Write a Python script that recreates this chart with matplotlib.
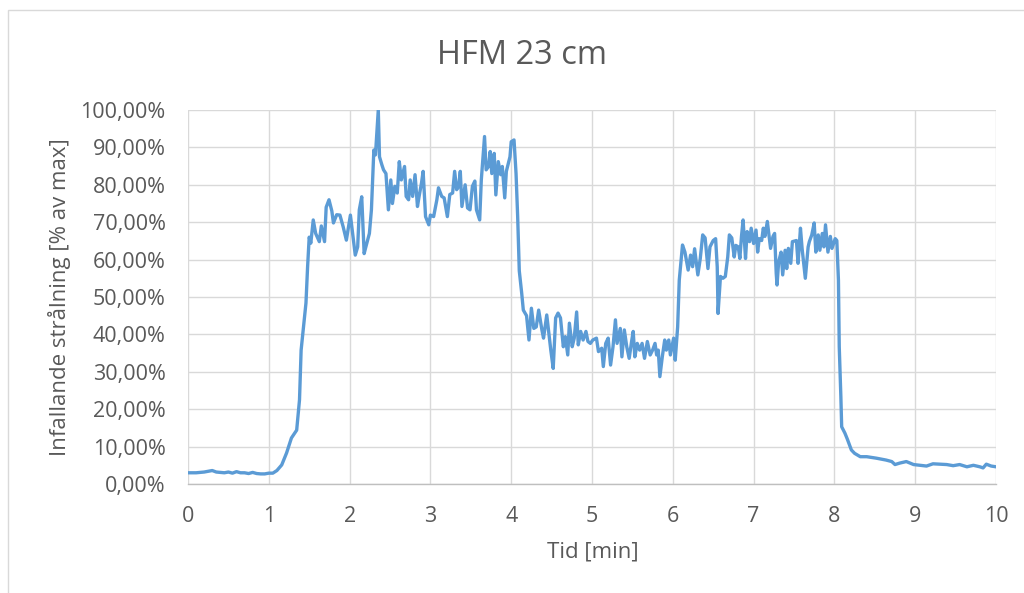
import matplotlib
matplotlib.use("Agg")
import matplotlib.pyplot as plt
from matplotlib.patches import Rectangle
from matplotlib.ticker import FuncFormatter

title = "HFM 23 cm"
x_label = "Tid [min]"
y_label = "Infallande strålning [% av max]"

time_min = [
    0.00, 0.10, 0.20, 0.30, 0.35, 0.45, 0.50, 0.55, 0.60, 0.65, 0.70, 0.75, 0.80, 0.85, 0.90, 0.95, 1.00, 1.05,
    1.10, 1.16, 1.22, 1.28, 1.345, 1.38, 1.40, 1.43, 1.46, 1.48, 1.50, 1.52, 1.55, 1.58, 1.625, 1.65, 1.69,
    1.71, 1.745, 1.78, 1.80, 1.84, 1.88, 1.92, 1.96, 2.01, 2.07, 2.10, 2.12, 2.15, 2.18, 2.20, 2.245, 2.27,
    2.30, 2.32, 2.355, 2.37, 2.40, 2.42, 2.45, 2.48, 2.51, 2.53, 2.56, 2.59, 2.615, 2.64, 2.68, 2.70, 2.73,
    2.75, 2.78, 2.81, 2.84, 2.86, 2.89, 2.91, 2.94, 2.98, 3.00, 3.04, 3.08, 3.10, 3.14, 3.17, 3.21, 3.24,
    3.275, 3.30, 3.325, 3.35, 3.37, 3.39, 3.43, 3.46, 3.49, 3.52, 3.55, 3.57, 3.61, 3.63, 3.67, 3.69, 3.72,
    3.74, 3.76, 3.79, 3.81, 3.84, 3.87, 3.89, 3.92, 3.94, 3.985, 4.00, 4.035, 4.06, 4.08, 4.10, 4.13, 4.15,
    4.19, 4.22, 4.25, 4.28, 4.31, 4.34, 4.38, 4.40, 4.44, 4.47, 4.49, 4.52, 4.55, 4.58, 4.61, 4.645, 4.67,
    4.70, 4.72, 4.755, 4.78, 4.81, 4.83, 4.86, 4.89, 4.925, 4.95, 4.98, 5.01, 5.055, 5.08, 5.12, 5.14, 5.17,
    5.20, 5.23, 5.26, 5.29, 5.31, 5.35, 5.37, 5.40, 5.43, 5.46, 5.49, 5.51, 5.53, 5.56, 5.59, 5.62, 5.65,
    5.685, 5.72, 5.75, 5.78, 5.80, 5.82, 5.84, 5.87, 5.90, 5.92, 5.95, 5.97, 6.01, 6.03, 6.06, 6.08, 6.12,
    6.15, 6.19, 6.22, 6.245, 6.27, 6.31, 6.34, 6.37, 6.40, 6.435, 6.46, 6.50, 6.53, 6.55, 6.56, 6.59, 6.62,
    6.65, 6.68, 6.70, 6.73, 6.76, 6.78, 6.81, 6.83, 6.85, 6.87, 6.90, 6.92, 6.95, 6.97, 7.00, 7.03, 7.05,
    7.07, 7.10, 7.12, 7.14, 7.17, 7.19, 7.21, 7.24, 7.26, 7.28, 7.29, 7.31, 7.34, 7.36, 7.39, 7.41, 7.43,
    7.46, 7.48, 7.53, 7.55, 7.58, 7.60, 7.62, 7.64, 7.675, 7.69, 7.72, 7.75, 7.77, 7.79, 7.80, 7.82, 7.85,
    7.87, 7.89, 7.92, 7.95, 7.97, 8.01, 8.03, 8.05, 8.06, 8.08, 8.09, 8.13, 8.16, 8.21, 8.25, 8.32, 8.40,
    8.52, 8.64, 8.71, 8.75, 8.81, 8.89, 8.98, 9.06, 9.14, 9.22, 9.39, 9.47, 9.55, 9.64, 9.72, 9.80, 9.84,
    9.88, 9.94, 10.00,
]

radiation_pct = [
    3.0, 3.0, 3.2, 3.6, 3.2, 3.0, 3.2, 2.9, 3.3, 3.0, 3.0, 2.8, 3.1, 2.8, 2.7, 2.7, 2.9, 2.9,
    3.6, 5.1, 8.3, 12.3, 14.4, 22.5, 35.8, 42.0, 48.4, 58.0, 66.0, 64.4, 70.6, 67.0, 64.8, 69.0, 64.8,
    74.0, 76.0, 73.0, 69.8, 72.0, 71.9, 68.8, 65.2, 71.9, 61.2, 63.4, 73.3, 76.8, 61.6, 63.3, 67.0, 73.3,
    89.3, 88.0, 100.0, 87.5, 85.3, 84.0, 83.0, 73.3, 81.3, 75.0, 79.6, 77.8, 86.2, 81.3, 84.9, 76.9, 76.0,
    81.3, 76.9, 82.7, 74.2, 76.9, 80.5, 83.6, 71.5, 69.3, 71.9, 71.5, 76.0, 79.2, 76.9, 76.5, 71.5, 77.4,
    77.8, 83.6, 78.7, 79.6, 83.6, 74.2, 80.0, 73.8, 73.3, 79.6, 81.0, 73.3, 70.6, 81.3, 92.9, 84.0, 84.9,
    88.9, 83.0, 88.4, 77.3, 86.2, 82.7, 84.9, 76.5, 83.6, 87.5, 91.5, 92.0, 83.0, 71.5, 57.0, 51.0, 46.5,
    45.0, 38.5, 47.0, 41.6, 42.0, 46.5, 41.2, 39.0, 45.2, 39.4, 35.8, 30.9, 44.4, 45.7, 44.4, 36.7, 39.4,
    34.5, 43.0, 36.7, 39.0, 46.0, 37.2, 40.8, 38.5, 40.8, 38.1, 37.6, 38.5, 39.0, 35.4, 36.3, 31.4, 37.6,
    39.0, 31.8, 36.7, 43.9, 37.6, 41.6, 34.0, 41.2, 36.7, 33.6, 38.1, 40.8, 34.0, 37.6, 35.8, 37.6, 33.6,
    38.1, 34.5, 35.8, 37.6, 34.5, 35.8, 28.7, 34.0, 38.5, 35.8, 38.5, 34.5, 39.0, 33.1, 42.0, 54.5, 63.9,
    62.0, 57.2, 61.2, 58.1, 62.9, 55.9, 60.3, 66.6, 65.8, 57.6, 63.4, 65.1, 65.6, 58.0, 45.6, 55.5, 55.0,
    55.5, 60.7, 66.6, 65.8, 60.7, 63.8, 63.4, 60.3, 66.2, 70.6, 60.3, 67.5, 64.8, 68.4, 64.3, 67.9, 62.0,
    65.6, 65.1, 68.4, 66.2, 70.2, 66.6, 63.0, 66.2, 67.0, 56.3, 53.2, 59.4, 62.0, 55.9, 62.5, 57.6, 63.0,
    59.0, 64.8, 65.1, 59.0, 68.4, 63.0, 59.0, 55.0, 63.4, 64.8, 66.6, 69.8, 62.0, 64.3, 66.6, 62.5, 67.0,
    63.4, 69.3, 62.0, 66.2, 63.0, 65.6, 65.1, 54.5, 36.7, 23.3, 15.3, 13.6, 12.0, 9.1, 8.2, 7.3, 7.3,
    6.9, 6.4, 6.0, 5.2, 5.6, 6.0, 5.2, 5.0, 4.8, 5.4, 5.2, 4.9, 5.2, 4.6, 5.0, 4.6, 4.3,
    5.3, 4.8, 4.6,
]

x_ticks = list(range(0, 11))
y_ticks = list(range(0, 101, 10))

W, H = 1024, 593
fig = plt.figure(figsize=(W / 100, H / 100), dpi=100)
fig.patch.set_facecolor("white")

font = ["Open Sans", "DejaVu Sans"]
text_color = "#595959"

# outer chart frame
fig.add_artist(Rectangle((8 / W, -0.05), 1.1, (H - 10) / H + 0.05, transform=fig.transFigure,
                         fill=False, edgecolor="#D9D9D9", linewidth=1.0))

ax = fig.add_axes([188 / W, (H - 484) / H, (996 - 188) / W, (484 - 110) / H])
ax.plot(time_min, radiation_pct, color="#5B9BD5", linewidth=2.4, solid_joinstyle="round")

ax.set_xlim(0, 10)
ax.set_ylim(0, 100)
ax.set_xticks(x_ticks)
ax.set_yticks(y_ticks)
ax.yaxis.set_major_formatter(FuncFormatter(lambda v, p: f"{v:.2f}".replace(".", ",") + "%"))
ax.grid(True, color="#D9D9D9", linewidth=1.0)
ax.set_axisbelow(True)
for s in ["top", "right", "left"]:
    ax.spines[s].set_visible(False)
ax.spines["bottom"].set_color("#BFBFBF")
ax.spines["bottom"].set_linewidth(1.0)
ax.tick_params(axis="both", length=0, labelsize=15.5, labelcolor=text_color)
ax.tick_params(axis="y", pad=16)
ax.tick_params(axis="x", pad=16)
for lbl in ax.get_xticklabels() + ax.get_yticklabels():
    lbl.set_family(font)

fig.text(593 / W, (H - 552) / H, x_label, ha="center", va="center", fontsize=16,
         color=text_color, family=font)
fig.text(60 / W, (H - 297) / H, y_label, ha="center", va="center", rotation=90, fontsize=16,
         color=text_color, family=font)

fig.text(522 / W, (H - 56) / H, title, ha="center", va="center", fontsize=23.5,
         color=text_color, family=font)

fig.savefig("out.png", dpi=100)
